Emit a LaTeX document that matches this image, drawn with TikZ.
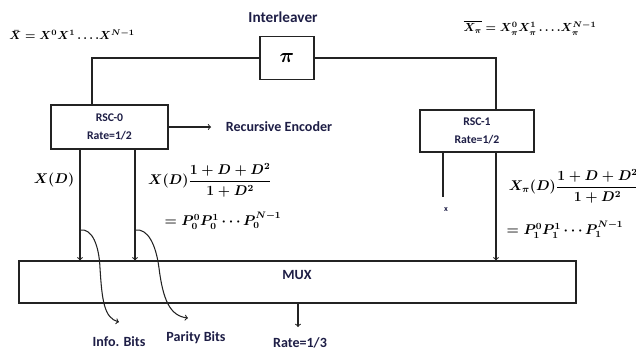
\documentclass[tikz,border=0pt]{standalone}
\usepackage{amsmath,amssymb}
\usepackage{fontspec}
\setmainfont{Carlito}
\usetikzlibrary{positioning,calc}
\definecolor{InkNavy}{RGB}{30,30,70}
\definecolor{LineGray}{RGB}{35,35,35}
\tikzset{
  blk/.style={draw=LineGray,line width=1pt,fill=white,inner sep=2pt,align=center},
  wire/.style={draw=LineGray,line width=0.9pt},
  sig/.style={wire,->},
  lbl/.style={text=InkNavy,font=\fontsize{12}{14}\selectfont\bfseries,inner sep=1pt},
  eq/.style={inner sep=1pt,font=\fontsize{11.5}{14}\selectfont\boldmath},
  topeq/.style={inner sep=1pt,font=\fontsize{10.4}{12}\selectfont\boldmath},
}

\begin{document}
\begin{tikzpicture}[x=0.03cm,y=-0.03cm]
  \useasboundingbox (0,0) rectangle (636,354);

  % Interleaver and the two constituent encoders.
  \node[blk,minimum width=1.62cm,minimum height=1.29cm,font=\LARGE\boldmath] (pi) at (287,58) {$\pi$};
  \node[lbl,font=\fontsize{13}{15}\selectfont\bfseries] (ilv) at (283,17) {Interleaver};
  \node[blk,minimum width=3.51cm,minimum height=1.32cm,text=InkNavy,font=\bfseries] (rsc0) at (109.5,127)
    {RSC-0\\[3pt]Rate=1/2};
  \node[blk,minimum width=3.42cm,minimum height=1.26cm,text=InkNavy,font=\bfseries] (rsc1) at (477,131)
    {RSC-1\\[3pt]Rate=1/2};
  \node[blk,minimum width=16.71cm,minimum height=1.26cm] (mux) at (297.5,282) {};
  \node[lbl] (muxlbl) at (297,275) {MUX};

  % Input and interleaved input.
  \coordinate (in0) at (92,105);
  \coordinate (in1) at (496,110);
  \draw[wire] (pi.west) -| (in0);
  \draw[wire] (pi.east) -| (in1);
  \node[topeq,anchor=west] (xbar) at (8,35) {$\bar{X}=X^0X^1\ldots.X^{N-1}$};
  \node[topeq] (xpibar) at (530,28) {$\overline{X_\pi}=X_\pi^0X_\pi^1\ldots.X_\pi^{N-1}$};

  % RSC-0 outputs.
  \node[lbl] (enc) at (279,127) {Recursive Encoder};
  \draw[sig] (rsc0.east) -- ([xshift=-0.4cm]enc.west);
  \coordinate (sys0) at (80,0);
  \coordinate (par0) at (135,0);
  \draw[sig] (sys0 |- rsc0.south) -- (sys0 |- mux.north);
  \draw[sig] (par0 |- rsc0.south) -- (par0 |- mux.north);
  \node[eq] (xd) at (54,180) {$X(D)$};
  \node[eq] (pd0) at (210,180) {$X(D)\dfrac{1+D+D^2}{1+D^2}$};
  \node[eq] (pseq0) at (223,221) {$=P_0^0P_0^1\cdots P_0^{N-1}$};

  % RSC-1 outputs: systematic part is not sent.
  \coordinate (sys1) at (443,197);
  \draw[wire] (sys1 |- rsc1.south) -- (sys1);
  \node[text=InkNavy,font=\scriptsize\bfseries] (xcut) at (446,210) {x};
  \draw[sig] (in1 |- rsc1.south) -- (in1 |- mux.north);
  \node[eq] (pd1) at (574,186) {$X_\pi(D)\dfrac{1+D+D^2}{1+D^2}$};
  \node[eq] (pseq1) at (565,230) {$=P_1^0P_1^1\cdots P_1^{N-1}$};

  % Bit annotations and the output.
  \coordinate (info) at (119,322);
  \coordinate (parity) at (188,318);
  \draw[sig] (sys0 |- 0,230) .. controls (92,228) and (99,245) .. (100,268)
    .. controls (102,300) and (104,318) .. (info);
  \draw[sig] (par0 |- 0,230) .. controls (148,228) and (156,245) .. (159,268)
    .. controls (163,300) and (170,316) .. (parity);
  \node[lbl] (infolbl) at (119,342) {Info. Bits};
  \node[lbl] (paritylbl) at (196,338) {Parity Bits};
  \coordinate (out) at (298,327);
  \draw[sig] (out |- mux.south) -- (out);
  \node[lbl] (rate) at (300,343) {Rate=1/3};
\end{tikzpicture}
\end{document}
